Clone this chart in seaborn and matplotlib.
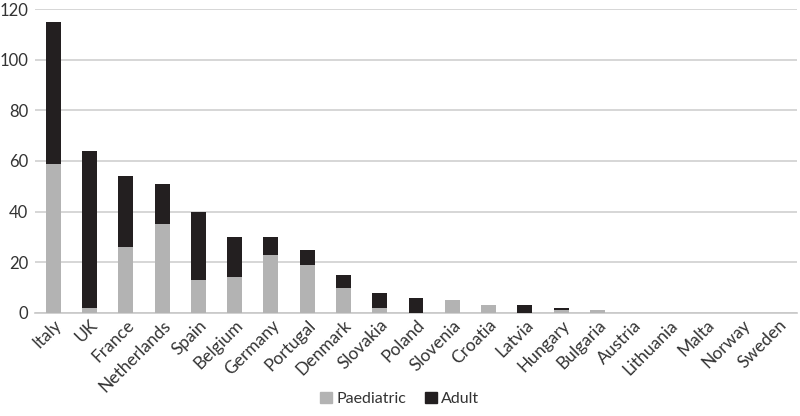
import pandas as pd
import matplotlib.pyplot as plt
import seaborn as sns
from matplotlib.patches import Patch

countries = ["Italy", "UK", "France", "Netherlands", "Spain", "Belgium", "Germany",
             "Portugal", "Denmark", "Slovakia", "Poland", "Slovenia", "Croatia", "Latvia",
             "Hungary", "Bulgaria", "Austria", "Lithuania", "Malta", "Norway", "Sweden"]
paediatric = [59, 2, 26, 35, 13, 14, 23, 19, 10, 2, 0, 5, 3, 0, 1, 1, 0, 0, 0, 0, 0]
adult = [56, 62, 28, 16, 27, 16, 7, 6, 5, 6, 6, 0, 0, 3, 1, 0, 0, 0, 0, 0, 0]

df = pd.DataFrame({"country": countries, "paediatric": paediatric, "adult": adult})
df["total"] = df["paediatric"] + df["adult"]

grey = "#b3b3b3"
black = "#231f20"
text_col = "#333333"

sns.set_theme(style="white")
plt.rcParams["font.family"] = ["Lato", "DejaVu Sans"]

fig = plt.figure(figsize=(8, 4.16), dpi=100)
ax = fig.add_axes([0.044, 0.248, 0.952, 0.73])

# stacked: total in black underneath, paediatric grey on top of it
sns.barplot(data=df, x="country", y="total", color=black, width=0.41,
            saturation=1, linewidth=0, ax=ax, zorder=3)
sns.barplot(data=df, x="country", y="paediatric", color=grey, width=0.41,
            saturation=1, linewidth=0, ax=ax, zorder=4)

ax.set_ylim(0, 120)
ax.set_yticks(range(0, 121, 20))
ax.set_xlim(-0.5, 20.5)
ax.yaxis.grid(True, color="#d0d0d0", linewidth=1.2, zorder=0)
ax.set_axisbelow(True)
for s in ["top", "right", "left"]:
    ax.spines[s].set_visible(False)
ax.spines["bottom"].set_color("#c8c8c8")
ax.spines["bottom"].set_linewidth(1.2)
ax.set_xlabel("")
ax.set_ylabel("")
ax.tick_params(axis="y", labelsize=12, colors=text_col, length=0, pad=5)
ax.tick_params(axis="x", labelsize=12.5, colors=text_col, length=0, pad=3)
plt.setp(ax.get_xticklabels(), rotation=45, ha="right", rotation_mode="anchor")

handles = [Patch(color=grey, label="Paediatric"), Patch(color=black, label="Adult")]
fig.legend(handles=handles, loc="lower center", bbox_to_anchor=(0.5, -0.01), ncol=2,
           frameon=False, fontsize=11.5, handlelength=0.7, handleheight=0.7,
           handletextpad=0.3, columnspacing=1.2, labelcolor=text_col)

fig.savefig("out.png", dpi=100)
